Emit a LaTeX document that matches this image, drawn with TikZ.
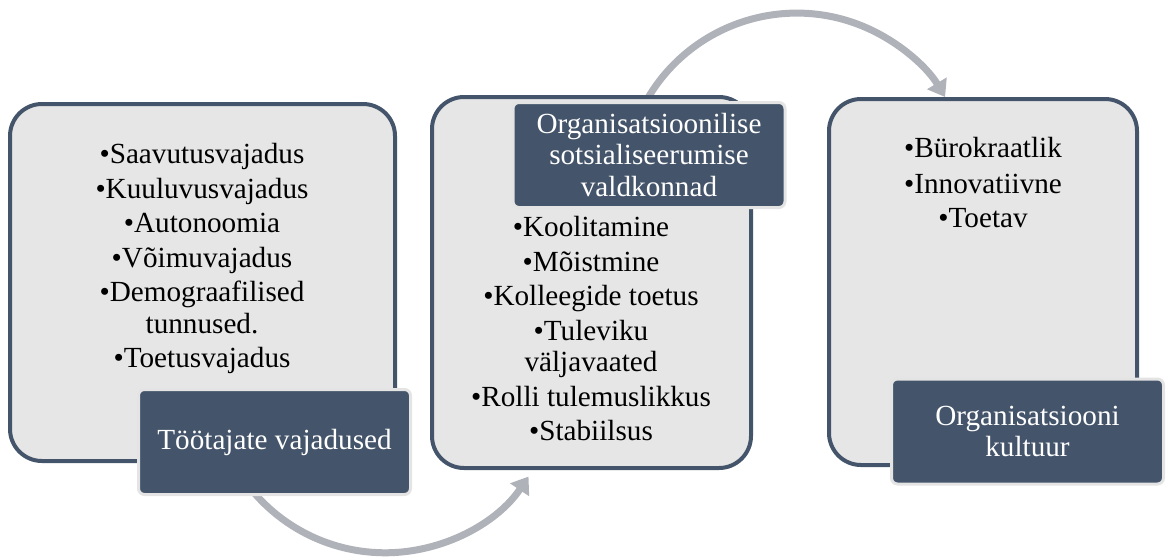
\documentclass[tikz,border=0pt]{standalone}
\usepackage{fontspec}
\setmainfont{Liberation Serif}
\usetikzlibrary{arrows.meta}
\definecolor{darkblue}{HTML}{44546A}
\definecolor{boxfill}{HTML}{E7E6E6}
\definecolor{arrowgray}{HTML}{AFB2B9}
\definecolor{lblborder}{HTML}{E4E4E4}
\begin{document}
\begin{tikzpicture}[x=0.5pt,y=-0.5pt,
  bigbox/.style={draw=darkblue, fill=boxfill, line width=2pt, rounded corners=16pt, inner sep=0pt},
  labelbox/.style={draw=lblborder, fill=darkblue, line width=1.5pt, rounded corners=3pt, text=white, align=center, inner sep=0pt, minimum width=136pt, minimum height=52.5pt, font=\fontsize{14.6pt}{15.75pt}\selectfont},
  itemtext/.style={anchor=north, inner sep=0pt, align=center, font=\fontsize{14.6pt}{17.25pt}\selectfont},
  flow/.style={draw=arrowgray, line width=3.5pt, -{Triangle[length=8pt,width=11pt]}}
]
\useasboundingbox (0,0) rectangle (1166,558);

% connectors (drawn first, partly hidden below boxes)
\coordinate (arcAstart) at (240,474);
\coordinate (arcBstart) at (640,113);
\draw[flow] (arcAstart) arc[start angle=147, end angle=34, radius=173];
\draw[flow] (arcBstart) arc[start angle=-155, end angle=-31, radius=173];

% big boxes
\node[bigbox, minimum width=192.5pt, minimum height=178.5pt] (boxA) at (202.5,282.5) {};
\node[bigbox, minimum width=159.5pt, minimum height=185.5pt] (boxB) at (591.5,282.5) {};
\node[bigbox, minimum width=154pt, minimum height=183pt] (boxC) at (983,282) {};

% item lists
\node[itemtext] (listA) at (202,143) {\rule{0pt}{10pt}•Saavutusvajadus\\•Kuuluvusvajadus\\•Autonoomia\\•Võimuvajadus\\•Demograafilised\\[-1.5pt]tunnused.\\•Toetusvajadus};
\node[itemtext] (listB) at (591,216) {\rule{0pt}{10pt}•Koolitamine\\•Mõistmine\\•Kolleegide toetus\\•Tuleviku\\[-1.5pt]väljavaated\\•Rolli tulemuslikkus\\•Stabiilsus};
\node[itemtext] (listC) at (983,137) {\rule{0pt}{10pt}•Bürokraatlik\\[0.5pt]•Innovatiivne\\•Toetav};

% labels
\node[labelbox] (labA) at (274.5,442) {Töötajate vajadused};
\node[labelbox] (labB) at (649,155) {Organisatsioonilise\\sotsialiseerumise\\valdkonnad};
\node[labelbox] (labC) at (1027.5,431.5) {Organisatsiooni\\kultuur};
\end{tikzpicture}
\end{document}
